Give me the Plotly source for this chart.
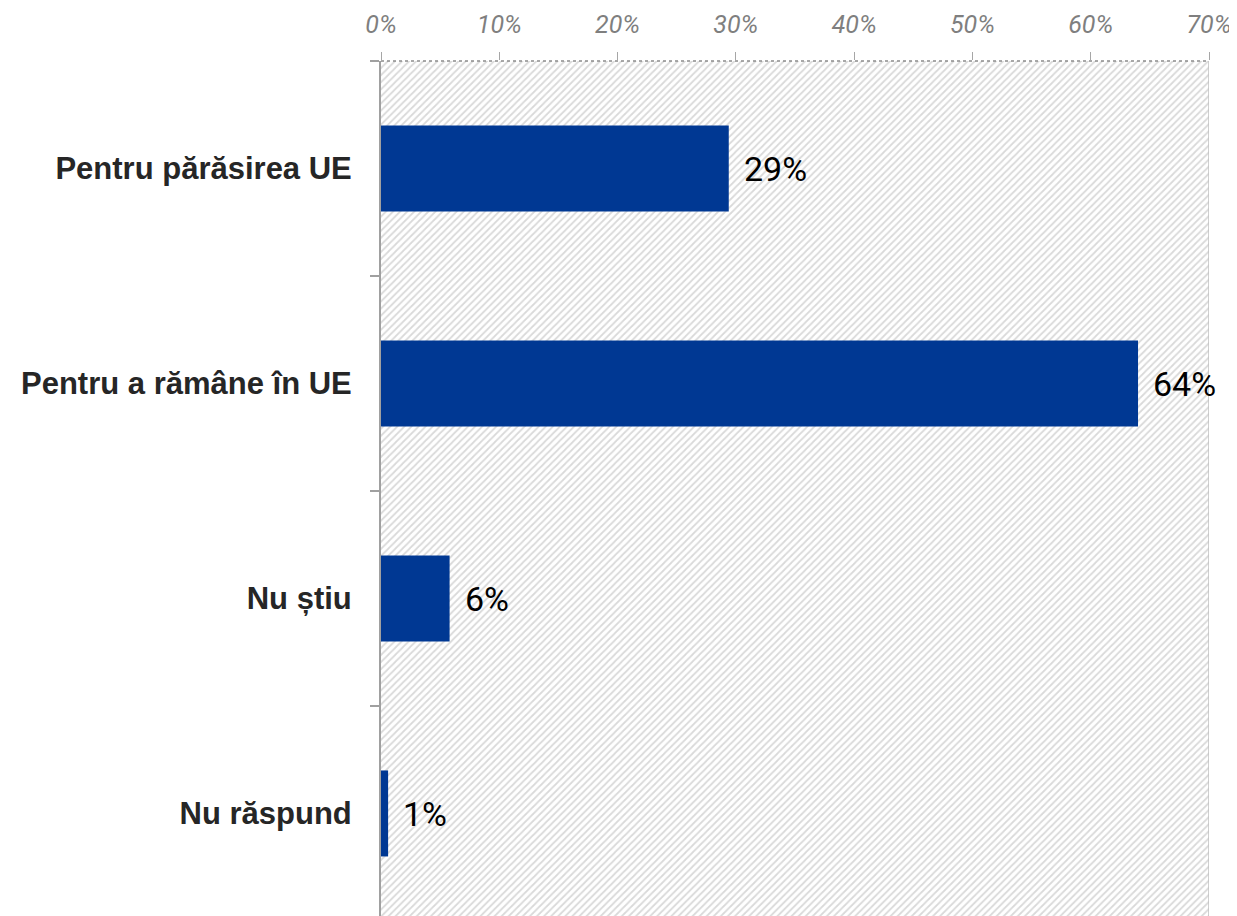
import plotly.graph_objects as go

categories = ["Pentru părăsirea UE", "Pentru a rămâne în UE", "Nu știu", "Nu răspund"]
values = [29.4, 64.0, 5.8, 0.6]
value_labels = ["29%", "64%", "6%", "1%"]
x_ticks = [0, 10, 20, 30, 40, 50, 60, 70]
x_tick_labels = ["0%", "10%", "20%", "30%", "40%", "50%", "60%", "70%"]
x_max = 70

BAR_COLOR = "#003893"

fig = go.Figure()

# hatched plot-area background
fig.add_trace(go.Bar(
    y=categories, x=[x_max] * len(categories), orientation="h", width=1,
    marker=dict(color="white", line=dict(width=0),
                pattern=dict(shape="/", fgcolor="#b4b4b4", bgcolor="white",
                             size=5, solidity=0.35)),
    hoverinfo="skip", showlegend=False,
))

fig.add_trace(go.Bar(
    y=categories, x=values, orientation="h", width=0.4,
    marker=dict(color=BAR_COLOR, line=dict(width=0)),
    showlegend=False,
))

for cat, v, lab in zip(categories, values, value_labels):
    fig.add_annotation(x=v, y=cat, text=lab, showarrow=False, xanchor="left",
                       xshift=13, yshift=-1,
                       font=dict(family="Roboto", size=34, color="#000000"))

# dotted top axis line and right border
fig.add_shape(type="line", xref="x", yref="paper", x0=0, x1=x_max, y0=1, y1=1,
              line=dict(color="#8c8c8c", width=1.5, dash="dot"))
fig.add_shape(type="line", xref="x", yref="paper", x0=x_max, x1=x_max, y0=0, y1=1,
              line=dict(color="#c0c0c0", width=1.5))

fig.update_layout(
    width=1229, height=908,
    margin=dict(l=373, r=28, t=53, b=0),
    paper_bgcolor="white", plot_bgcolor="white",
    barmode="overlay",
    xaxis=dict(side="top", range=[0, x_max], tickvals=x_ticks, ticktext=x_tick_labels,
               showgrid=False, zeroline=False, showline=False,
               ticks="outside", ticklen=8, tickcolor="#a6a6a6", tickwidth=1,
               ticklabelstandoff=9,
               tickfont=dict(family="Roboto", size=25, color="#7f7f7f", style="italic")),
    yaxis=dict(categoryorder="array", categoryarray=categories,
               range=[3.477, -0.5], showgrid=False, zeroline=False,
               showline=True, linecolor="#a0a0a0", linewidth=2,
               ticks="outside", tickson="boundaries", ticklen=9, tickcolor="#a0a0a0",
               tickwidth=1.5, ticklabelstandoff=21,
               tickfont=dict(family="Liberation Sans", size=31, color="#262626", weight="bold")),
)

fig.write_html("out.html")
